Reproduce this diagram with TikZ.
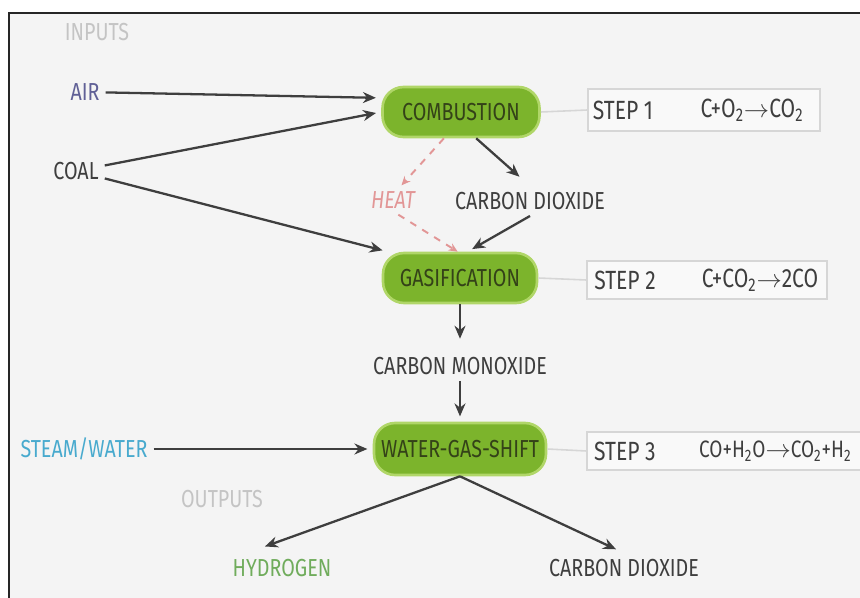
\documentclass[tikz,border=0pt]{standalone}
\usepackage{fontspec}
\setmainfont{Fira Sans}[FakeStretch=0.8]
\usetikzlibrary{arrows.meta}
\definecolor{paper}{RGB}{244,244,244}
\definecolor{sprout}{RGB}{124,180,44}
\definecolor{sproutedge}{RGB}{176,214,104}
\definecolor{stagetext}{RGB}{52,66,24}
\definecolor{ink}{RGB}{62,62,62}
\definecolor{mist}{RGB}{196,196,196}
\definecolor{rim}{RGB}{214,214,214}
\definecolor{dusk}{RGB}{96,96,150}
\definecolor{sky}{RGB}{72,170,206}
\definecolor{rose}{RGB}{226,150,150}
\definecolor{moss}{RGB}{112,172,92}
\tikzset{
  >={Stealth[length=2.6mm,width=2.2mm]},
  stage/.style={fill=sprout,draw=sproutedge,line width=1.5pt,rounded corners=12pt,
    minimum width=#1,minimum height=1cm,text=stagetext,font=\fontsize{14}{16}\selectfont},
  stage/.default=3.1cm,
  tag/.style={text=#1,font=\fontsize{14}{16}\selectfont},
  tag/.default=ink,
  stepbox/.style={draw=rim,fill=white!45!paper,line width=0.7pt,minimum width=#1,minimum height=0.84cm},
  stepbox/.default=4.6cm,
  steptext/.style={text=ink,font=\fontsize{15}{17}\selectfont},
  flow/.style={->,draw=ink,line width=1.3pt,shorten >=3pt},
  heatflow/.style={-{Stealth[length=1.8mm,width=1.6mm]},draw=rose,dash pattern=on 4pt off 4pt,line width=1.1pt},
  link/.style={draw=rim,line width=0.9pt},
  frame/.style={draw=black!85,line width=1.4pt},
}
\begin{document}
\begin{tikzpicture}[x=0.02cm,y=-0.02cm]
  \useasboundingbox (0,0) rectangle (860,598);
  \fill[white] (0,0) rectangle (860,598);
  \fill[paper] (9,13) rectangle (870,610);
  \draw[frame] (9,610) -- (9,13) -- (870,13);

  % inputs
  \node[tag=mist] (inputs) at (97,32) {INPUTS};
  \node[tag=dusk] (air) at (85,92) {AIR};
  \node[tag] (coal) at (76,171) {COAL};
  \node[tag=sky] (steam) at (84,449) {STEAM/WATER};

  % stages
  \node[stage=3.14cm] (comb) at (461,112) {COMBUSTION};
  \node[stage=3.08cm] (gas) at (460,278) {GASIFICATION};
  \node[stage=3.44cm,minimum height=1.04cm] (shift) at (460,449) {WATER-GAS-SHIFT};

  % products
  \node[tag] (co2a) at (530,201) {CARBON DIOXIDE};
  \node[tag] (co) at (460,366) {CARBON MONOXIDE};
  \node[tag=rose,font=\fontsize{14}{16}\selectfont\itshape] (heat) at (393,200) {HEAT};
  \node[tag=mist] (outputs) at (222,499) {OUTPUTS};
  \node[tag=moss] (h2) at (282,568) {HYDROGEN};
  \node[tag] (co2b) at (624,568) {CARBON DIOXIDE};

  % steps
  \node[stepbox=4.64cm] (s1) at (704,110) {};
  \node[steptext] (s1lbl) at (623,110) {STEP 1};
  \node[steptext] (s1eq) at (752,110) {C+O\textsubscript{2}$\rightarrow$CO\textsubscript{2}};
  \node[stepbox=4.8cm,minimum height=0.76cm] (s2) at (707,280) {};
  \node[steptext] (s2lbl) at (625,280) {STEP 2};
  \node[steptext] (s2eq) at (760,280) {C+CO\textsubscript{2}$\rightarrow$2CO};
  \node[stepbox=6cm,minimum height=0.76cm] (s3) at (737,451) {};
  \node[steptext] (s3lbl) at (625,451) {STEP 3};
  \node[steptext,anchor=west,font=\fontsize{13.5}{16}\selectfont] (s3eq) at (693,451) {CO+H\textsubscript{2}O$\rightarrow$CO\textsubscript{2}+H\textsubscript{2}};
  \draw[link] (comb.east) -- (s1.west);
  \draw[link] (gas.east) -- (s2.west);
  \draw[link] (shift.east) -- (s3.west);

  % arrows
  \draw[flow] (air) -- (comb.170);
  \draw[flow] (coal) -- (comb.west);
  \draw[flow] (coal) -- (gas.160);
  \draw[flow,shorten >=8pt] (comb.-60) -- (co2a.north);
  \draw[flow] (co2a.south) -- (gas.74);
  \draw[heatflow] (comb.-123) -- (heat.60);
  \draw[heatflow] (heat.-70) -- (gas.95);
  \draw[flow,shorten >=7pt] (gas) -- (co);
  \draw[flow] (co) -- (shift);
  \draw[flow] (steam) -- (shift);
  \draw[flow,shorten >=11pt] (shift.south) -- (h2.157);
  \draw[flow,shorten >=5pt] (shift.south) -- (co2b.north);
\end{tikzpicture}
\end{document}
